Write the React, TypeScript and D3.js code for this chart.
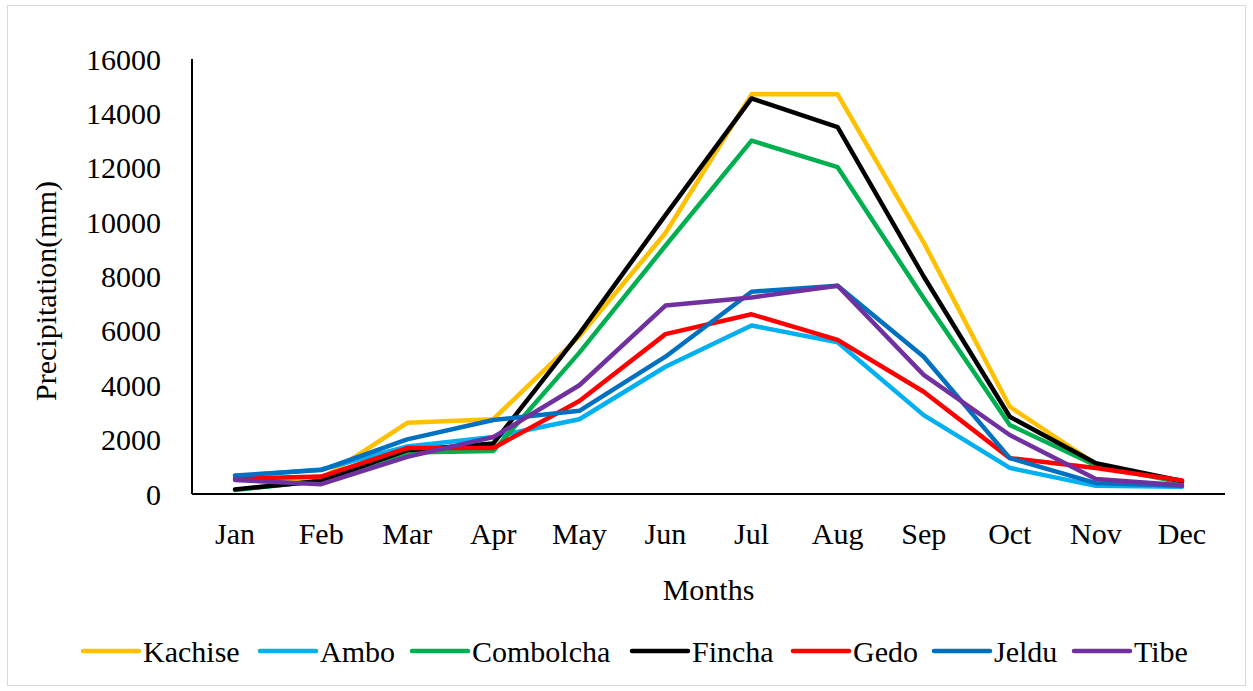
import React from "react";
import * as d3 from "d3";

const months = ["Jan", "Feb", "Mar", "Apr", "May", "Jun", "Jul", "Aug", "Sep", "Oct", "Nov", "Dec"];
const yTicks = [0, 2000, 4000, 6000, 8000, 10000, 12000, 14000, 16000];

const kachise = [540, 560, 2620, 2750, 5800, 9600, 14700, 14700, 9250, 3210, 1100, 430];
const ambo = [650, 900, 1750, 2100, 2750, 4680, 6200, 5580, 2900, 960, 300, 270];
const combolcha = [150, 490, 1530, 1580, 5200, 9130, 13000, 12020, 7200, 2540, 1050, 420];
const fincha = [170, 480, 1610, 1860, 5900, 10260, 14550, 13490, 8000, 2840, 1130, 480];
const gedo = [560, 640, 1690, 1690, 3420, 5880, 6610, 5670, 3760, 1320, 960, 500];
const jeldu = [680, 880, 2010, 2720, 3060, 5050, 7440, 7660, 5050, 1320, 400, 300];
const tibe = [515, 360, 1370, 2090, 4000, 6930, 7230, 7660, 4380, 2170, 550, 320];

const seriesNames = ["Kachise", "Ambo", "Combolcha", "Fincha", "Gedo", "Jeldu", "Tibe"];
const seriesValues = [kachise, ambo, combolcha, fincha, gedo, jeldu, tibe];
const seriesColors = ["#FFC000", "#00B0F0", "#00B050", "#000000", "#FF0000", "#0070C0", "#7030A0"];

const W = 1253;
const H = 691;
const left = 192;
const right = 1225;
const top = 59;
const bottom = 494;
const font = "'Liberation Serif', 'Times New Roman', serif";
const fs = 30;

export default function App() {
  const x = d3.scaleBand<string>().domain(months).range([left, right]);
  const y = d3.scaleLinear().domain([0, 16000]).range([bottom, top]);
  const line = d3
    .line<number>()
    .x((_, i) => (x(months[i]) as number) + x.bandwidth() / 2)
    .y((d) => y(d));

  const legendX = [83, 260, 412, 632, 793, 934, 1074];
  const legendLen = 56;
  const legendY = 651;

  return (
    <svg
      width={W}
      height={H}
      style={{ position: "absolute", left: 0, top: 0, background: "#fff" }}
      fontFamily={font}
    >
      <rect x={7.5} y={5.5} width={1238} height={680} fill="#fff" stroke="#d9d9d9" strokeWidth={1} />
      {yTicks.map((t) => (
        <text key={t} x={161} y={y(t)} dy="0.35em" textAnchor="end" fontSize={fs} fill="#000">
          {t}
        </text>
      ))}
      {months.map((m) => (
        <text
          key={m}
          x={(x(m) as number) + x.bandwidth() / 2}
          y={544}
          textAnchor="middle"
          fontSize={fs}
          fill="#000"
        >
          {m}
        </text>
      ))}
      {seriesValues.map((vals, i) => (
        <path
          key={seriesNames[i]}
          d={line(vals) || ""}
          fill="none"
          stroke={seriesColors[i]}
          strokeWidth={4.5}
          strokeLinejoin="round"
          strokeLinecap="round"
        />
      ))}
      <line x1={left} x2={left} y1={top} y2={bottom} stroke="#000" strokeWidth={2} />
      <line x1={left} x2={right} y1={bottom} y2={bottom} stroke="#000" strokeWidth={2} />
      <text x={(left + right) / 2} y={600} textAnchor="middle" fontSize={fs} fill="#000">
        Months
      </text>
      <text
        transform={`translate(56, ${291}) rotate(-90)`}
        textAnchor="middle"
        fontSize={fs}
        fill="#000"
      >
        Precipitation(mm)
      </text>
      {seriesNames.map((n, i) => (
        <g key={n}>
          <line
            x1={legendX[i]}
            x2={legendX[i] + legendLen}
            y1={legendY}
            y2={legendY}
            stroke={seriesColors[i]}
            strokeWidth={4.5}
            strokeLinecap="round"
          />
          <text x={legendX[i] + legendLen + 4} y={legendY} dy="0.35em" fontSize={fs} fill="#000">
            {n}
          </text>
        </g>
      ))}
    </svg>
  );
}
